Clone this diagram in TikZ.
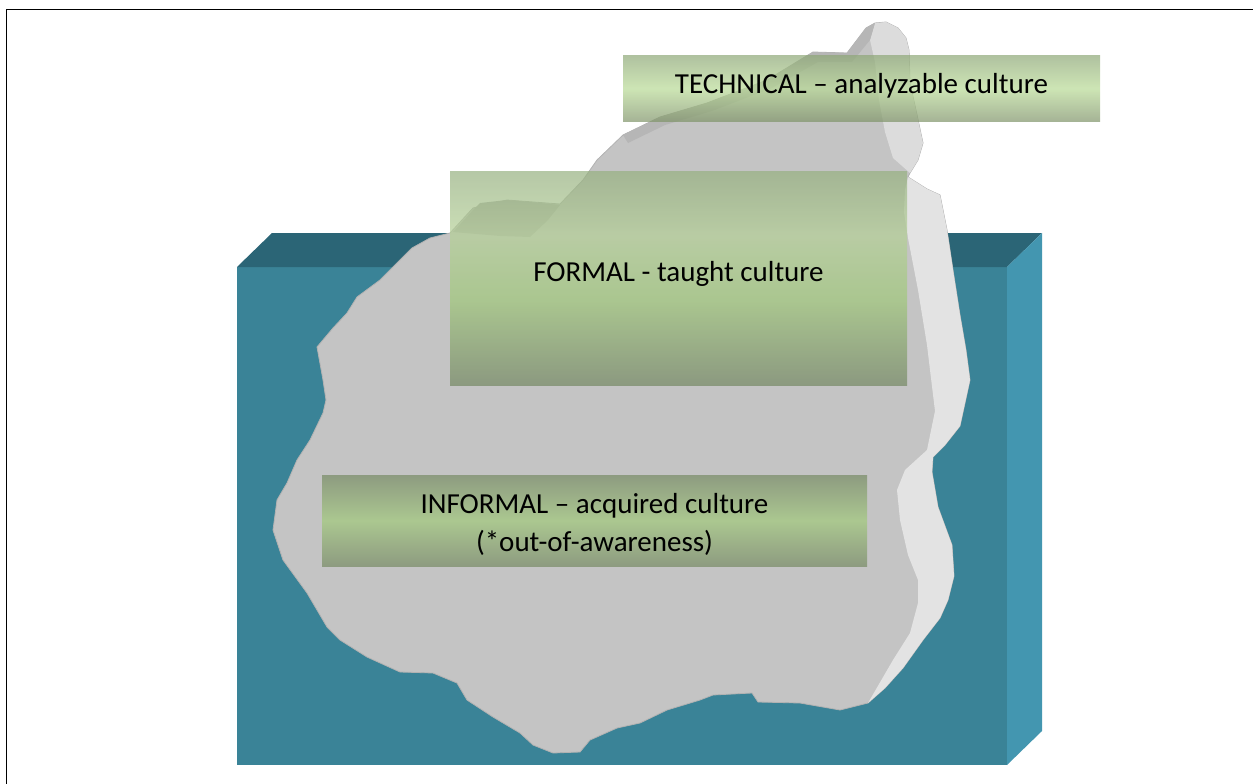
\documentclass[tikz,border=0pt]{standalone}
\usepackage{fontspec}
\setmainfont{Carlito}
\definecolor{waterfront}{HTML}{3A8397}
\definecolor{watertop}{HTML}{2B6576}
\definecolor{waterside}{HTML}{4396B0}
\definecolor{icefront}{HTML}{C4C4C4}
\definecolor{iceside}{HTML}{E3E3E3}
\definecolor{icepeak}{HTML}{DCDCDC}
\definecolor{iceridge}{HTML}{B6B6B6}
\definecolor{iceplateau}{HTML}{ADADAD}
\definecolor{iceedge}{HTML}{B2B2B2}
\definecolor{ft}{RGB}{150,176,128}
\definecolor{fl}{RGB}{180,208,150}
\definecolor{fm}{RGB}{160,200,122}
\definecolor{fb}{RGB}{116,136,99}
\definecolor{tt}{RGB}{142,168,119}
\definecolor{tm}{RGB}{184,218,149}
\definecolor{tb}{RGB}{127,148,105}
\definecolor{ie}{RGB}{141,155,128}
\definecolor{im}{RGB}{171,199,144}
\pgfdeclareverticalshading{formalshade}{100bp}{color(0bp)=(fb); color(25bp)=(fb); color(45bp)=(fm); color(60bp)=(fl); color(75bp)=(ft); color(100bp)=(ft)}
\begin{document}
\begin{tikzpicture}[x=1pt,y=-1pt,
  labelbox/.style={inner sep=0pt, outer sep=0pt, draw=none},
  labeltext/.style={inner sep=0pt, font=\fontsize{29}{38}\selectfont, text=black, anchor=base},
  frameline/.style={line width=1.3pt, black}]
\useasboundingbox (0,0) rectangle (1253,784);
% frame
\draw[frameline] (6.5,784) -- (6.5,9.5) -- (1253,9.5);
% water block
\fill[waterfront] (237,267) rectangle (1007,765);
\fill[watertop] (237,267) -- (272,233) -- (1042,233) -- (1007,267) -- cycle;
\fill[waterside] (1007,267) -- (1042,233) -- (1042,731) -- (1007,765) -- cycle;
% iceberg body
\filldraw[fill=icefront, draw=iceedge, line width=0.8pt]
 (866,28) -- (875,23) -- (886,22) -- (898,28) -- (906,38) -- (909,50) -- (910,83) -- (917,115) -- (923,143) -- (918,160) -- (910,173)
 -- (908,177) -- (927,189) -- (940,195) -- (947,230) -- (953,270) -- (960,315) -- (966,350) -- (970,380)
 -- (960,426) -- (945,445) -- (933,457) -- (932,472) -- (938,507) -- (952,545) -- (954,576) -- (948,600)
 -- (940,618) -- (923,640) -- (903,668) -- (885,688) -- (868,703) -- (840,710) -- (800,703) -- (758,702)
 -- (752,693) -- (713,695) -- (700,700) -- (667,710) -- (640,723) -- (617,728) -- (590,740) -- (580,752)
 -- (553,753) -- (533,745) -- (520,733) -- (493,717) -- (467,700) -- (457,683) -- (433,673) -- (400,672)
 -- (367,657) -- (340,640) -- (327,627) -- (307,593) -- (283,560) -- (273,530) -- (277,500) -- (287,483)
 -- (297,460) -- (310,440) -- (323,413) -- (326,400) -- (323,380) -- (317,347) -- (333,328) -- (347,313)
 -- (357,297) -- (380,280) -- (412,248) -- (430,238) -- (450,233) -- (473,208) -- (507,200) -- (560,204)
 -- (583,180) -- (597,160) -- (623,135) -- (660,117) -- (707,103) -- (767,80) -- (813,52) -- (847,53) -- cycle;
% light right side face
\fill[iceside]
 (908,177) -- (927,189) -- (940,195) -- (947,230) -- (953,270) -- (960,315) -- (966,350) -- (970,380)
 -- (960,426) -- (945,445) -- (933,457) -- (932,472) -- (938,507) -- (952,545) -- (954,576) -- (948,600)
 -- (940,618) -- (923,640) -- (903,668) -- (885,688) -- (868,703)
 -- (893,660) -- (910,633) -- (918,603) -- (918,580) -- (908,555) -- (900,520) -- (897,490) -- (905,470)
 -- (927,450) -- (935,411) -- (930,370) -- (927,345) -- (918,290) -- (908,238) -- (904,212) -- (905,190) -- cycle;
% light face of the peak
\fill[icepeak]
 (875,23) -- (886,22) -- (898,28) -- (906,38) -- (909,50) -- (910,83) -- (917,115) -- (923,143) -- (918,160) -- (910,173)
 -- (893,158) -- (885,132) -- (879,100) -- (875,62) -- (870,40) -- cycle;
% ridge along the upper edge
\fill[iceridge]
 (623,135) -- (660,117) -- (707,103) -- (767,80) -- (813,52) -- (847,53) -- (866,28) -- (875,23)
 -- (870,40) -- (852,62) -- (818,62) -- (772,88) -- (712,111) -- (665,125) -- (628,143) -- cycle;
% plateau face
\fill[iceplateau]
 (453,232) -- (473,210) -- (480,203) -- (507,200) -- (540,203) -- (560,205) -- (548,220) -- (530,237)
 -- (500,236) -- cycle;
% label boxes
\node[labelbox, minimum width=477pt, minimum height=65pt, fill opacity=0.7,
      top color=tt, bottom color=tb, middle color=tm] (techbox) at (861.5,88.5) {};
\node[labelbox, minimum width=457pt, minimum height=214pt, fill opacity=0.7,
      shading=formalshade] (formbox) at (678.5,278) {};
\node[labelbox, minimum width=545pt, minimum height=91pt,
      top color=ie, bottom color=ie, middle color=im] (infbox) at (594.5,520.5) {};
% texts
\node[labeltext] (techtext) at (861.5,93) {TECHNICAL – analyzable culture};
\node[labeltext] (formtext) at (678.5,281) {FORMAL - taught culture};
\node[labeltext] (inftext1) at (594.5,513) {INFORMAL – acquired culture};
\node[labeltext] (inftext2) at (594.5,551) {(*out-of-awareness)};
\end{tikzpicture}
\end{document}
